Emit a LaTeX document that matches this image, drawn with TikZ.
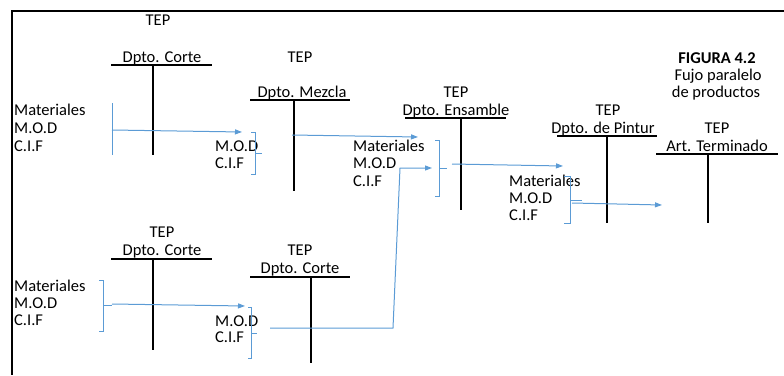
\documentclass[tikz,border=0pt]{standalone}
\usepackage{fontspec}
\setmainfont{Carlito}
\usetikzlibrary{arrows.meta}
\definecolor{lblue}{RGB}{91,155,213}
\begin{document}
\begin{tikzpicture}[x=1pt,y=-1pt,
  lbl/.style={inner sep=0pt,anchor=base,font=\fontsize{16.5}{19}\selectfont},
  lft/.style={lbl,anchor=base west},
  tbar/.style={line width=2pt,black},
  flow/.style={lblue,line width=1pt,-{Triangle[length=7pt,width=5pt]}},
  brk/.style={lblue,line width=1pt}]
\useasboundingbox (0,0) rectangle (784,375);
% frame
\coordinate (fr1) at (784,11); \coordinate (fr2) at (12,11); \coordinate (fr3) at (12,375);
\draw[line width=2pt] (fr1) -- (fr2) -- (fr3);

% title
\node[lbl,font=\fontsize{16.5}{19}\selectfont\bfseries] (fig) at (717,63) {FIGURA 4.2};
\node[lbl] (fig2) at (718,80) {Fujo paralelo};
\node[lbl] (fig3) at (716,97) {de productos};

% Account 1: Dpto. Corte (top)
\node[lbl] (tep1) at (158,25) {TEP};
\node[lbl] (d1) at (162,62) {Dpto. Corte};
\coordinate (a1l) at (111,65); \coordinate (a1r) at (212,65);
\coordinate (a1t) at (153,65); \coordinate (a1b) at (153,155);
\draw[tbar] (a1l) -- (a1r); \draw[tbar] (a1t) -- (a1b);

% Account 2: Dpto. Mezcla
\node[lbl] (tep2) at (300,62) {TEP};
\node[lbl] (d2) at (302,97) {Dpto. Mezcla};
\coordinate (a2l) at (250,100); \coordinate (a2r) at (350,100);
\coordinate (a2t) at (294,100); \coordinate (a2b) at (294,191);
\draw[tbar] (a2l) -- (a2r); \draw[tbar] (a2t) -- (a2b);

% Account 3: Dpto. Ensamble
\node[lbl] (tep3) at (456,97) {TEP};
\node[lbl] (d3) at (456,115) {Dpto. Ensamble};
\coordinate (a3l) at (405,118); \coordinate (a3r) at (506,118);
\coordinate (a3t) at (461,118); \coordinate (a3b) at (461,210);
\draw[tbar] (a3l) -- (a3r); \draw[tbar] (a3t) -- (a3b);

% Account 4: Dpto. de Pintur
\node[lbl] (tep4) at (608,115) {TEP};
\node[lbl] (d4) at (603,133) {Dpto. de Pintur};
\coordinate (a4l) at (557,136); \coordinate (a4r) at (657,136);
\coordinate (a4t) at (607,136); \coordinate (a4b) at (607,223);
\draw[tbar] (a4l) -- (a4r); \draw[tbar] (a4t) -- (a4b);

% Account 5: Art. Terminado
\node[lbl] (tep5) at (717,133) {TEP};
\node[lbl] (d5) at (717,151) {Art. Terminado};
\coordinate (a5l) at (656,154); \coordinate (a5r) at (778,154);
\coordinate (a5t) at (708,154); \coordinate (a5b) at (708,223);
\draw[tbar] (a5l) -- (a5r); \draw[tbar] (a5t) -- (a5b);

% Account 6: Dpto. Corte (bottom left)
\node[lbl] (tep6) at (162,237) {TEP};
\node[lbl] (d6) at (162,255) {Dpto. Corte};
\coordinate (a6l) at (111,259); \coordinate (a6r) at (212,259);
\coordinate (a6t) at (153,259); \coordinate (a6b) at (153,350);
\draw[tbar] (a6l) -- (a6r); \draw[tbar] (a6t) -- (a6b);

% Account 7: Dpto. Corte (bottom right)
\node[lbl] (tep7) at (300,255) {TEP};
\node[lbl] (d7) at (300,273) {Dpto. Corte};
\coordinate (a7l) at (250,277); \coordinate (a7r) at (350,277);
\coordinate (a7t) at (311,277); \coordinate (a7b) at (311,363);
\draw[tbar] (a7l) -- (a7r); \draw[tbar] (a7t) -- (a7b);

% cost labels
\node[lft] (m1) at (14,115) {Materiales};
\node[lft] (o1) at (14,133) {M.O.D};
\node[lft] (c1) at (14,151) {C.I.F};

\node[lft] (o2) at (215,151) {M.O.D};
\node[lft] (c2) at (215,168) {C.I.F};

\node[lft] (m3) at (353,151) {Materiales};
\node[lft] (o3) at (353,168) {M.O.D};
\node[lft] (c3) at (353,186) {C.I.F};

\node[lft] (m4) at (509,186) {Materiales};
\node[lft] (o4) at (509,203) {M.O.D};
\node[lft] (c4) at (509,220) {C.I.F};

\node[lft] (m6) at (14,291) {Materiales};
\node[lft] (o6) at (14,308) {M.O.D};
\node[lft] (c6) at (14,325) {C.I.F};

\node[lft] (o7) at (215,326) {M.O.D};
\node[lft] (c7) at (215,342) {C.I.F};

% brackets and flows
% 1
\coordinate (k1t) at (112,103); \coordinate (k1b) at (112,155);
\draw[brk] (k1t) -- (k1b);
\coordinate (f1s) at (112,130); \coordinate (f1e) at (242,132);
\draw[flow] (f1s) -- (f1e);
% 2
\coordinate (k2t) at (255,132); \coordinate (k2b) at (255,174); \coordinate (k2m) at (255,153);
\draw[brk] ([xshift=-4pt]k2t) -- (k2t) -- (k2b) -- ([xshift=-4pt]k2b);
\draw[brk] (k2m) -- ++(7,0);
\coordinate (f2s) at (292,135); \coordinate (f2e) at (418,137);
\draw[flow] (f2s) -- (f2e);
% 3
\coordinate (k3t) at (439,140); \coordinate (k3b) at (439,196); \coordinate (k3m) at (439,168);
\draw[brk] ([xshift=-4pt]k3t) -- (k3t) -- (k3b) -- ([xshift=-4pt]k3b);
\draw[brk] (k3m) -- ++(8,0);
\coordinate (f3s) at (452,164); \coordinate (f3e) at (563,166);
\draw[flow] (f3s) -- (f3e);
% 4
\coordinate (k4t) at (570,176); \coordinate (k4b) at (570,223); \coordinate (k4m) at (570,200);
\draw[brk] ([xshift=-6pt]k4t) -- (k4t) -- (k4b) -- ([xshift=-6pt]k4b);
\draw[brk] (k4m) -- ++(12,0);
\coordinate (f4s) at (572,203); \coordinate (f4e) at (662,205);
\draw[flow] (f4s) -- (f4e);
% 6
\coordinate (k6t) at (103,280); \coordinate (k6b) at (103,331); \coordinate (k6m) at (103,305);
\draw[brk] ([xshift=-4pt]k6t) -- (k6t) -- (k6b) -- ([xshift=-4pt]k6b);
\draw[brk] (k6m) -- ++(9,0);
\coordinate (f6s) at (112,304); \coordinate (f6e) at (245,306);
\draw[flow] (f6s) -- (f6e);
% 7
\coordinate (k7t) at (251,307); \coordinate (k7b) at (251,358); \coordinate (k7m) at (251,333);
\draw[brk] ([xshift=-3pt]k7t) -- (k7t) -- (k7b) -- ([xshift=-3pt]k7b);
\draw[brk] (k7m) -- ++(6,0);
\coordinate (f7s) at (270,328); \coordinate (f7c) at (393,328);
\coordinate (f7u) at (400,168); \coordinate (f7e) at (432,168);
\draw[flow] (f7s) -- (f7c) -- (f7u) -- (f7e);
\end{tikzpicture}
\end{document}
